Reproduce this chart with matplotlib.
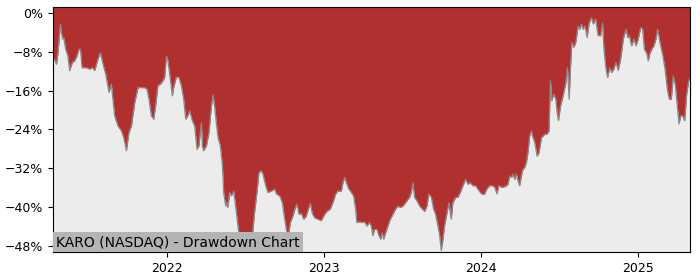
import matplotlib
matplotlib.use("Agg")
import matplotlib.pyplot as plt
import matplotlib.dates as mdates
from matplotlib.ticker import FuncFormatter
import pandas as pd

# Drawdown: time as decimal year, drawdown in percent
years = [
    2021.271, 2021.275, 2021.293, 2021.303, 2021.318, 2021.331, 2021.339, 2021.352,
    2021.366, 2021.377, 2021.395, 2021.409, 2021.424, 2021.437, 2021.446, 2021.456,
    2021.484, 2021.505, 2021.522, 2021.537, 2021.548, 2021.558, 2021.573, 2021.590,
    2021.607, 2021.628, 2021.643, 2021.664, 2021.685, 2021.707, 2021.722, 2021.739,
    2021.755, 2021.771, 2021.792, 2021.813, 2021.834, 2021.855, 2021.870, 2021.883,
    2021.898, 2021.913, 2021.925, 2021.940, 2021.955, 2021.972, 2021.983, 2021.994,
    2022.004, 2022.019, 2022.032, 2022.040, 2022.057, 2022.074, 2022.089, 2022.104,
    2022.117, 2022.131, 2022.142, 2022.159, 2022.174, 2022.189, 2022.201, 2022.217,
    2022.223, 2022.231, 2022.249, 2022.265, 2022.280, 2022.291, 2022.301, 2022.312,
    2022.323, 2022.338, 2022.351, 2022.359, 2022.372, 2022.380, 2022.386, 2022.397,
    2022.408, 2022.423, 2022.435, 2022.450, 2022.461, 2022.476, 2022.493, 2022.507,
    2022.525, 2022.542, 2022.556, 2022.571, 2022.584, 2022.599, 2022.609, 2022.627,
    2022.641, 2022.663, 2022.684, 2022.695, 2022.716, 2022.733, 2022.748, 2022.762,
    2022.771, 2022.784, 2022.801, 2022.813, 2022.826, 2022.839, 2022.854, 2022.869,
    2022.886, 2022.902, 2022.911, 2022.924, 2022.939, 2022.960, 2022.981, 2023.003,
    2023.017, 2023.039, 2023.055, 2023.073, 2023.087, 2023.109, 2023.119, 2023.130,
    2023.141, 2023.157, 2023.173, 2023.187, 2023.200, 2023.208, 2023.226, 2023.243,
    2023.258, 2023.272, 2023.289, 2023.300, 2023.310, 2023.321, 2023.336, 2023.349,
    2023.360, 2023.370, 2023.379, 2023.391, 2023.406, 2023.421, 2023.438, 2023.455,
    2023.470, 2023.485, 2023.502, 2023.519, 2023.534, 2023.544, 2023.555, 2023.565,
    2023.576, 2023.591, 2023.608, 2023.625, 2023.640, 2023.655, 2023.667, 2023.683,
    2023.697, 2023.710, 2023.725, 2023.736, 2023.746, 2023.757, 2023.767, 2023.782,
    2023.795, 2023.804, 2023.810, 2023.820, 2023.838, 2023.852, 2023.867, 2023.884,
    2023.901, 2023.916, 2023.931, 2023.948, 2023.965, 2023.980, 2023.995, 2024.008,
    2024.022, 2024.037, 2024.054, 2024.071, 2024.086, 2024.101, 2024.113, 2024.129,
    2024.143, 2024.161, 2024.171, 2024.182, 2024.193, 2024.203, 2024.214, 2024.224,
    2024.235, 2024.245, 2024.256, 2024.266, 2024.277, 2024.288, 2024.298, 2024.309,
    2024.320, 2024.326, 2024.341, 2024.356, 2024.368, 2024.384, 2024.405, 2024.419,
    2024.432, 2024.441, 2024.449, 2024.462, 2024.475, 2024.483, 2024.492, 2024.505,
    2024.521, 2024.539, 2024.549, 2024.560, 2024.569, 2024.577, 2024.590, 2024.602,
    2024.617, 2024.628, 2024.639, 2024.649, 2024.660, 2024.674, 2024.687, 2024.702,
    2024.713, 2024.728, 2024.744, 2024.760, 2024.772, 2024.781, 2024.793, 2024.804,
    2024.819, 2024.830, 2024.844, 2024.857, 2024.872, 2024.887, 2024.904, 2024.921,
    2024.932, 2024.942, 2024.957, 2024.972, 2024.985, 2024.999, 2025.015, 2025.027,
    2025.038, 2025.053, 2025.063, 2025.074, 2025.085, 2025.099, 2025.112, 2025.123,
    2025.138, 2025.155, 2025.170, 2025.184, 2025.197, 2025.210, 2025.222, 2025.235,
    2025.248, 2025.259, 2025.270, 2025.282, 2025.295, 2025.308, 2025.321, 2025.329,
]
drawdown = [
    -9.0, -9.2, -10.6, -8.2, -2.3, -5.4, -5.1, -7.5,
    -8.9, -11.9, -10.2, -9.9, -8.9, -7.5, -7.5, -11.3,
    -11.3, -11.6, -11.3, -11.9, -10.6, -9.5, -8.2, -10.6,
    -12.6, -16.4, -14.7, -21.2, -23.3, -24.3, -25.7, -28.4,
    -24.7, -23.3, -18.5, -15.4, -15.4, -15.4, -15.7, -17.8,
    -21.2, -21.9, -19.2, -15.0, -14.7, -14.0, -13.3, -8.9,
    -9.9, -13.7, -17.1, -15.4, -13.3, -13.3, -15.0, -17.8,
    -21.9, -21.2, -20.2, -22.2, -23.3, -28.1, -27.4, -22.6,
    -27.4, -28.4, -27.4, -24.7, -19.5, -16.9, -19.2, -22.6,
    -25.7, -27.4, -31.5, -37.0, -39.8, -39.1, -40.1, -37.0,
    -37.7, -36.7, -39.8, -43.9, -46.6, -49.0, -47.3, -48.0,
    -48.3, -45.9, -41.1, -37.0, -32.9, -32.5, -33.2, -35.6,
    -37.0, -36.7, -36.3, -37.3, -37.7, -39.1, -42.5, -45.3,
    -46.0, -43.2, -41.8, -40.4, -39.4, -41.5, -41.3, -42.5,
    -41.8, -40.1, -39.2, -41.3, -42.2, -42.5, -42.8, -41.5,
    -40.9, -40.4, -39.1, -37.3, -36.7, -36.7, -35.0, -33.9,
    -35.0, -36.3, -37.0, -37.7, -40.4, -43.2, -43.0, -43.2,
    -43.1, -43.9, -43.2, -43.9, -45.9, -44.6, -44.6, -45.9,
    -46.6, -45.3, -46.6, -45.3, -43.9, -42.5, -41.5, -40.4,
    -39.8, -40.1, -39.8, -39.1, -38.4, -38.0, -37.0, -35.0,
    -38.0, -38.7, -39.8, -40.4, -40.9, -39.8, -37.3, -38.0,
    -40.4, -41.5, -43.9, -45.9, -49.0, -46.6, -43.9, -41.3,
    -39.1, -41.3, -42.5, -39.1, -38.0, -38.0, -37.0, -35.6,
    -34.3, -35.3, -35.0, -35.6, -35.6, -36.3, -37.0, -37.4,
    -37.3, -36.3, -35.6, -35.6, -35.9, -37.3, -35.6, -35.9,
    -35.9, -35.6, -35.3, -33.6, -33.9, -33.2, -34.3, -33.2,
    -34.6, -35.6, -33.6, -32.2, -31.9, -30.8, -28.8, -25.3,
    -24.3, -25.3, -26.7, -29.5, -28.8, -25.7, -25.0, -25.0,
    -24.3, -14.0, -18.1, -16.7, -17.8, -20.5, -22.2, -19.2,
    -17.1, -14.4, -11.3, -17.8, -10.9, -6.1, -7.1, -6.1,
    -2.7, -3.4, -2.3, -3.4, -2.7, -5.1, -2.1, -1.0,
    -2.3, -1.3, -4.7, -4.7, -2.1, -7.5, -11.3, -13.3,
    -11.3, -12.3, -11.6, -10.2, -11.9, -9.5, -5.4, -3.4,
    -5.1, -4.7, -6.8, -5.4, -6.8, -5.4, -3.0, -3.4,
    -7.5, -8.3, -9.9, -8.3, -7.5, -6.8, -5.4, -3.4,
    -6.2, -8.7, -11.6, -15.7, -17.8, -17.8, -13.0, -14.8,
    -19.2, -22.9, -21.2, -21.2, -22.2, -16.7, -14.0, -13.5,
]
y_ticks = [0, -8, -16, -24, -32, -40, -48]
x_tick_years = [2022, 2023, 2024, 2025]
chart_title = "KARO (NASDAQ) - Drawdown Chart"


def to_date(y):
    start = pd.Timestamp(year=int(y), month=1, day=1)
    end = pd.Timestamp(year=int(y) + 1, month=1, day=1)
    return start + (end - start) * (y - int(y))


dates = [to_date(y) for y in years]
ymin, ymax = -49.25, 1.2

fig = plt.figure(figsize=(7, 2.8), dpi=100)
ax = fig.add_axes([0.0757, 0.1, 0.91, 0.875])
ax.set_facecolor("#ececec")

# red area above the drawdown curve
ax.fill_between(dates, drawdown, ymax, color="#b03030", linewidth=0)
ax.plot(dates, drawdown, color="#8a8a8a", linewidth=0.9)

ax.set_xlim(dates[0], dates[-1])
ax.set_ylim(ymin, ymax)
ax.set_yticks(y_ticks)
ax.yaxis.set_major_formatter(FuncFormatter(lambda v, _: f"{v:.0f}%".replace("-", "\u2212")))
ax.set_xticks([pd.Timestamp(year=y, month=1, day=1) for y in x_tick_years])
ax.xaxis.set_major_formatter(mdates.DateFormatter("%Y"))
ax.tick_params(labelsize=9)

ax.text(0.005, 0.012, chart_title, transform=ax.transAxes, fontsize=10,
        ha="left", va="bottom",
        bbox=dict(facecolor="#b4b4b4", edgecolor="none", pad=2))

fig.savefig("out.png", dpi=100)
